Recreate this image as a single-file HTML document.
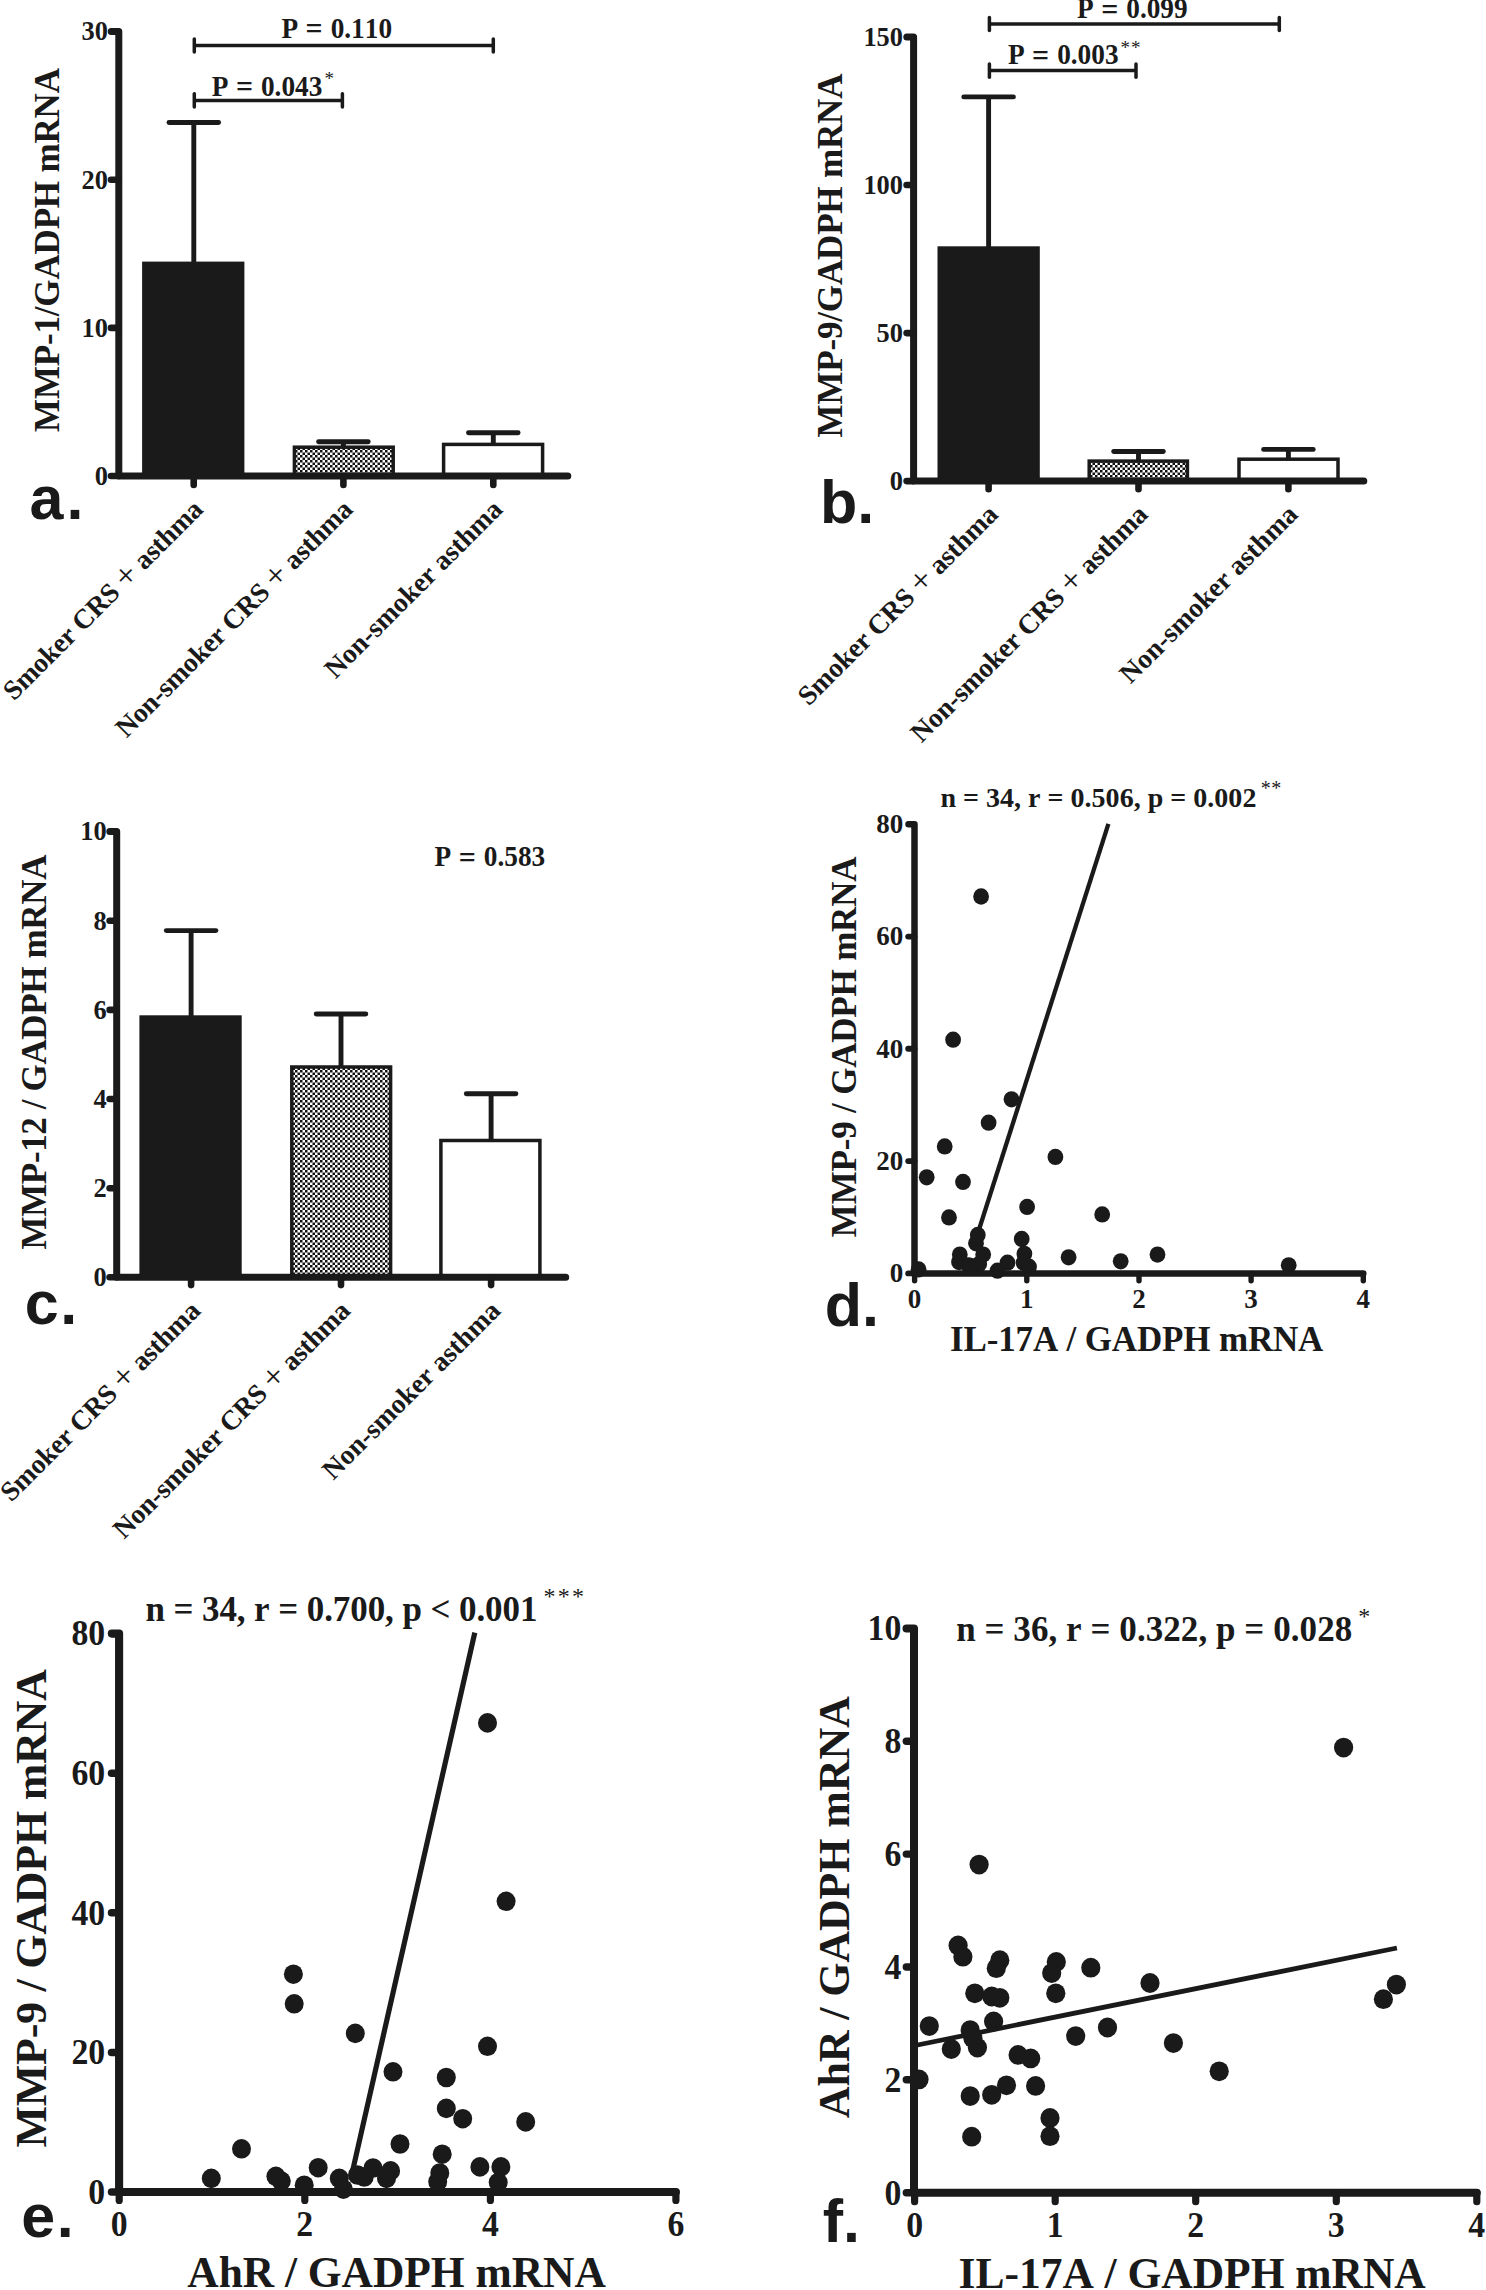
<!DOCTYPE html>
<html lang="en"><head><meta charset="utf-8"><title>Figure</title>
<style>html,body{margin:0;padding:0;background:#fff}svg{display:block}text{fill:#1a1a1a;font-kerning:none}</style></head><body>
<svg width="1486" height="2290" viewBox="0 0 1486 2290">
<defs><pattern id="chk" width="5" height="5" patternUnits="userSpaceOnUse"><rect width="5" height="5" fill="#fff"/><rect width="2.5" height="2.5" fill="#111"/><rect x="2.5" y="2.5" width="2.5" height="2.5" fill="#111"/></pattern></defs>
<rect width="1486" height="2290" fill="#fff"/>
<rect x="142.1" y="261.6" width="102.3" height="214.4" fill="#1a1a1a"/>
<rect x="294.4" y="447.2" width="98.8" height="28.8" fill="url(#chk)" stroke="#1a1a1a" stroke-width="3.5"/>
<rect x="443.6" y="444.4" width="99.0" height="31.6" fill="#fff" stroke="#1a1a1a" stroke-width="3.5"/>
<line x1="193.8" y1="122.5" x2="193.8" y2="262.0" stroke="#1a1a1a" stroke-width="4.9" stroke-linecap="butt"/>
<line x1="169.0" y1="122.5" x2="218.6" y2="122.5" stroke="#1a1a1a" stroke-width="4.9" stroke-linecap="round"/>
<line x1="343.4" y1="441.8" x2="343.4" y2="446.0" stroke="#1a1a1a" stroke-width="4.9" stroke-linecap="butt"/>
<line x1="318.6" y1="441.8" x2="368.2" y2="441.8" stroke="#1a1a1a" stroke-width="4.9" stroke-linecap="round"/>
<line x1="493.3" y1="432.8" x2="493.3" y2="444.0" stroke="#1a1a1a" stroke-width="4.9" stroke-linecap="butt"/>
<line x1="468.5" y1="432.8" x2="518.1" y2="432.8" stroke="#1a1a1a" stroke-width="4.9" stroke-linecap="round"/>
<path d="M111.2,31.6 L118.8,31.6 L118.8,476.0 L567.8,476.0" fill="none" stroke="#1a1a1a" stroke-width="7" stroke-linecap="round" stroke-linejoin="round"/>
<text transform="translate(107.9 40.4) scale(1 1.07)" font-size="26.4" font-weight="bold" font-family="'Liberation Serif','Times New Roman',serif" text-anchor="end" >30</text>
<line x1="111.0" y1="179.7" x2="118.8" y2="179.7" stroke="#1a1a1a" stroke-width="6.6" stroke-linecap="round"/>
<text transform="translate(107.9 188.5) scale(1 1.07)" font-size="26.4" font-weight="bold" font-family="'Liberation Serif','Times New Roman',serif" text-anchor="end" >20</text>
<line x1="111.0" y1="327.9" x2="118.8" y2="327.9" stroke="#1a1a1a" stroke-width="6.6" stroke-linecap="round"/>
<text transform="translate(107.9 336.7) scale(1 1.07)" font-size="26.4" font-weight="bold" font-family="'Liberation Serif','Times New Roman',serif" text-anchor="end" >10</text>
<line x1="111.0" y1="476.0" x2="118.8" y2="476.0" stroke="#1a1a1a" stroke-width="6.6" stroke-linecap="round"/>
<text transform="translate(107.9 484.8) scale(1 1.07)" font-size="26.4" font-weight="bold" font-family="'Liberation Serif','Times New Roman',serif" text-anchor="end" >0</text>
<line x1="193.7" y1="476.3" x2="193.7" y2="484.9" stroke="#1a1a1a" stroke-width="6.6" stroke-linecap="round"/>
<line x1="343.4" y1="476.3" x2="343.4" y2="484.9" stroke="#1a1a1a" stroke-width="6.6" stroke-linecap="round"/>
<line x1="493.3" y1="476.3" x2="493.3" y2="484.9" stroke="#1a1a1a" stroke-width="6.6" stroke-linecap="round"/>
<text transform="translate(204.5 511.0) rotate(-45)" font-size="27.6" font-weight="bold" font-family="'Liberation Serif','Times New Roman',serif" text-anchor="end" textLength="269.5" lengthAdjust="spacing" >Smoker CRS <tspan font-weight="normal" font-size="35" dy="1.5">+</tspan><tspan dy="-1.5"> asthma</tspan></text>
<text transform="translate(354.2 511.0) rotate(-45)" font-size="27.6" font-weight="bold" font-family="'Liberation Serif','Times New Roman',serif" text-anchor="end" textLength="322.0" lengthAdjust="spacing" >Non-smoker CRS <tspan font-weight="normal" font-size="35" dy="1.5">+</tspan><tspan dy="-1.5"> asthma</tspan></text>
<text transform="translate(504.1 511.0) rotate(-45)" font-size="27.6" font-weight="bold" font-family="'Liberation Serif','Times New Roman',serif" text-anchor="end" textLength="238.5" lengthAdjust="spacing" >Non-smoker asthma</text>
<text transform="translate(59.2 250.0) rotate(-90)" font-size="35" font-weight="bold" font-family="'Liberation Serif','Times New Roman',serif" text-anchor="middle" textLength="364.0" lengthAdjust="spacing" >MMP-1/GADPH mRNA</text>
<text transform="translate(29.4 519.0)" font-size="61" font-weight="bold" font-family="'Liberation Sans',Arial,sans-serif" text-anchor="start" letter-spacing="3.2">a.</text>
<line x1="194.3" y1="45.5" x2="493.3" y2="45.5" stroke="#1a1a1a" stroke-width="3.5" stroke-linecap="butt"/>
<line x1="194.3" y1="38.9" x2="194.3" y2="52.1" stroke="#1a1a1a" stroke-width="3.5" stroke-linecap="round"/>
<line x1="493.3" y1="38.9" x2="493.3" y2="52.1" stroke="#1a1a1a" stroke-width="3.5" stroke-linecap="round"/>
<line x1="194.3" y1="100.4" x2="342.4" y2="100.4" stroke="#1a1a1a" stroke-width="3.5" stroke-linecap="butt"/>
<line x1="194.3" y1="93.8" x2="194.3" y2="107.1" stroke="#1a1a1a" stroke-width="3.5" stroke-linecap="round"/>
<line x1="342.4" y1="93.8" x2="342.4" y2="107.1" stroke="#1a1a1a" stroke-width="3.5" stroke-linecap="round"/>
<text transform="translate(281.8 37.7) scale(1 1.057)" font-size="27.3" font-weight="bold" font-family="'Liberation Serif','Times New Roman',serif"><tspan x="-0.4">P</tspan> <tspan x="23.8" dy="1.5" font-size="30">=</tspan> <tspan x="48.85" dy="-1.5">0.110</tspan></text>
<text transform="translate(212.1 95.6) scale(1 1.057)" font-size="27.3" font-weight="bold" font-family="'Liberation Serif','Times New Roman',serif"><tspan x="-0.4">P</tspan> <tspan x="23.8" dy="1.5" font-size="30">=</tspan> <tspan x="48.85" dy="-1.5">0.043</tspan></text>
<text transform="translate(324.5 85.0)" font-size="19" font-weight="normal" font-family="'Liberation Serif','Times New Roman',serif" text-anchor="start" >*</text>
<rect x="937.5" y="246.3" width="102.3" height="234.8" fill="#1a1a1a"/>
<rect x="1089.2" y="461.1" width="98.2" height="20.0" fill="url(#chk)" stroke="#1a1a1a" stroke-width="3.5"/>
<rect x="1239.0" y="459.2" width="99.0" height="21.9" fill="#fff" stroke="#1a1a1a" stroke-width="3.5"/>
<line x1="988.6" y1="96.9" x2="988.6" y2="247.0" stroke="#1a1a1a" stroke-width="4.9" stroke-linecap="butt"/>
<line x1="963.8" y1="96.9" x2="1013.4" y2="96.9" stroke="#1a1a1a" stroke-width="4.9" stroke-linecap="round"/>
<line x1="1138.5" y1="451.5" x2="1138.5" y2="460.0" stroke="#1a1a1a" stroke-width="4.9" stroke-linecap="butt"/>
<line x1="1113.7" y1="451.5" x2="1163.3" y2="451.5" stroke="#1a1a1a" stroke-width="4.9" stroke-linecap="round"/>
<line x1="1288.4" y1="449.4" x2="1288.4" y2="459.0" stroke="#1a1a1a" stroke-width="4.9" stroke-linecap="butt"/>
<line x1="1263.6" y1="449.4" x2="1313.2" y2="449.4" stroke="#1a1a1a" stroke-width="4.9" stroke-linecap="round"/>
<path d="M906.8,37.0 L913.6,37.0 L913.6,481.1 L1363.8,481.1" fill="none" stroke="#1a1a1a" stroke-width="7" stroke-linecap="round" stroke-linejoin="round"/>
<text transform="translate(903.0 45.8) scale(1 1.07)" font-size="26.4" font-weight="bold" font-family="'Liberation Serif','Times New Roman',serif" text-anchor="end" >150</text>
<line x1="906.6" y1="185.0" x2="913.6" y2="185.0" stroke="#1a1a1a" stroke-width="6.6" stroke-linecap="round"/>
<text transform="translate(903.0 193.8) scale(1 1.07)" font-size="26.4" font-weight="bold" font-family="'Liberation Serif','Times New Roman',serif" text-anchor="end" >100</text>
<line x1="906.6" y1="333.1" x2="913.6" y2="333.1" stroke="#1a1a1a" stroke-width="6.6" stroke-linecap="round"/>
<text transform="translate(903.0 341.9) scale(1 1.07)" font-size="26.4" font-weight="bold" font-family="'Liberation Serif','Times New Roman',serif" text-anchor="end" >50</text>
<line x1="906.6" y1="481.1" x2="913.6" y2="481.1" stroke="#1a1a1a" stroke-width="6.6" stroke-linecap="round"/>
<text transform="translate(903.0 489.9) scale(1 1.07)" font-size="26.4" font-weight="bold" font-family="'Liberation Serif','Times New Roman',serif" text-anchor="end" >0</text>
<line x1="988.6" y1="481.4" x2="988.6" y2="489.3" stroke="#1a1a1a" stroke-width="6.6" stroke-linecap="round"/>
<line x1="1138.5" y1="481.4" x2="1138.5" y2="489.3" stroke="#1a1a1a" stroke-width="6.6" stroke-linecap="round"/>
<line x1="1288.4" y1="481.4" x2="1288.4" y2="489.3" stroke="#1a1a1a" stroke-width="6.6" stroke-linecap="round"/>
<text transform="translate(999.4 516.1) rotate(-45)" font-size="27.6" font-weight="bold" font-family="'Liberation Serif','Times New Roman',serif" text-anchor="end" textLength="269.5" lengthAdjust="spacing" >Smoker CRS <tspan font-weight="normal" font-size="35" dy="1.5">+</tspan><tspan dy="-1.5"> asthma</tspan></text>
<text transform="translate(1149.3 516.1) rotate(-45)" font-size="27.6" font-weight="bold" font-family="'Liberation Serif','Times New Roman',serif" text-anchor="end" textLength="322.0" lengthAdjust="spacing" >Non-smoker CRS <tspan font-weight="normal" font-size="35" dy="1.5">+</tspan><tspan dy="-1.5"> asthma</tspan></text>
<text transform="translate(1299.2 516.1) rotate(-45)" font-size="27.6" font-weight="bold" font-family="'Liberation Serif','Times New Roman',serif" text-anchor="end" textLength="238.5" lengthAdjust="spacing" >Non-smoker asthma</text>
<text transform="translate(842.4 255.5) rotate(-90)" font-size="35" font-weight="bold" font-family="'Liberation Serif','Times New Roman',serif" text-anchor="middle" textLength="364.0" lengthAdjust="spacing" >MMP-9/GADPH mRNA</text>
<text transform="translate(820.0 522.5)" font-size="61" font-weight="bold" font-family="'Liberation Sans',Arial,sans-serif" text-anchor="start" letter-spacing="0">b.</text>
<line x1="989.4" y1="24.0" x2="1279.3" y2="24.0" stroke="#1a1a1a" stroke-width="3.5" stroke-linecap="butt"/>
<line x1="989.4" y1="17.4" x2="989.4" y2="30.6" stroke="#1a1a1a" stroke-width="3.5" stroke-linecap="round"/>
<line x1="1279.3" y1="17.4" x2="1279.3" y2="30.6" stroke="#1a1a1a" stroke-width="3.5" stroke-linecap="round"/>
<line x1="989.4" y1="70.5" x2="1136.0" y2="70.5" stroke="#1a1a1a" stroke-width="3.5" stroke-linecap="butt"/>
<line x1="989.4" y1="63.9" x2="989.4" y2="77.2" stroke="#1a1a1a" stroke-width="3.5" stroke-linecap="round"/>
<line x1="1136.0" y1="63.9" x2="1136.0" y2="77.2" stroke="#1a1a1a" stroke-width="3.5" stroke-linecap="round"/>
<text transform="translate(1077.4 18.3) scale(1 1.057)" font-size="27.3" font-weight="bold" font-family="'Liberation Serif','Times New Roman',serif"><tspan x="-0.4">P</tspan> <tspan x="23.8" dy="1.5" font-size="30">=</tspan> <tspan x="48.85" dy="-1.5">0.099</tspan></text>
<text transform="translate(1008.3 64.0) scale(1 1.057)" font-size="27.3" font-weight="bold" font-family="'Liberation Serif','Times New Roman',serif"><tspan x="-0.4">P</tspan> <tspan x="23.8" dy="1.5" font-size="30">=</tspan> <tspan x="48.85" dy="-1.5">0.003</tspan></text>
<text transform="translate(1120.5 54.0)" font-size="19" font-weight="normal" font-family="'Liberation Serif','Times New Roman',serif" text-anchor="start" textLength="20.0" lengthAdjust="spacing" >**</text>
<rect x="139.4" y="1015.3" width="102.3" height="262.0" fill="#1a1a1a"/>
<rect x="291.8" y="1067.0" width="98.8" height="210.2" fill="url(#chk)" stroke="#1a1a1a" stroke-width="3.5"/>
<rect x="440.9" y="1140.5" width="99.0" height="136.8" fill="#fff" stroke="#1a1a1a" stroke-width="3.5"/>
<line x1="191.1" y1="930.6" x2="191.1" y2="1016.0" stroke="#1a1a1a" stroke-width="4.9" stroke-linecap="butt"/>
<line x1="166.3" y1="930.6" x2="215.9" y2="930.6" stroke="#1a1a1a" stroke-width="4.9" stroke-linecap="round"/>
<line x1="341.0" y1="1014.0" x2="341.0" y2="1066.0" stroke="#1a1a1a" stroke-width="4.9" stroke-linecap="butt"/>
<line x1="316.2" y1="1014.0" x2="365.8" y2="1014.0" stroke="#1a1a1a" stroke-width="4.9" stroke-linecap="round"/>
<line x1="491.1" y1="1093.7" x2="491.1" y2="1140.0" stroke="#1a1a1a" stroke-width="4.9" stroke-linecap="butt"/>
<line x1="466.3" y1="1093.7" x2="515.9" y2="1093.7" stroke="#1a1a1a" stroke-width="4.9" stroke-linecap="round"/>
<path d="M109.8,831.6 L116.7,831.6 L116.7,1277.3 L565.7,1277.3" fill="none" stroke="#1a1a1a" stroke-width="7" stroke-linecap="round" stroke-linejoin="round"/>
<text transform="translate(106.6 840.4) scale(1 1.07)" font-size="26.4" font-weight="bold" font-family="'Liberation Serif','Times New Roman',serif" text-anchor="end" >10</text>
<line x1="109.6" y1="920.7" x2="116.7" y2="920.7" stroke="#1a1a1a" stroke-width="6.6" stroke-linecap="round"/>
<text transform="translate(106.6 929.5) scale(1 1.07)" font-size="26.4" font-weight="bold" font-family="'Liberation Serif','Times New Roman',serif" text-anchor="end" >8</text>
<line x1="109.6" y1="1009.9" x2="116.7" y2="1009.9" stroke="#1a1a1a" stroke-width="6.6" stroke-linecap="round"/>
<text transform="translate(106.6 1018.7) scale(1 1.07)" font-size="26.4" font-weight="bold" font-family="'Liberation Serif','Times New Roman',serif" text-anchor="end" >6</text>
<line x1="109.6" y1="1099.0" x2="116.7" y2="1099.0" stroke="#1a1a1a" stroke-width="6.6" stroke-linecap="round"/>
<text transform="translate(106.6 1107.8) scale(1 1.07)" font-size="26.4" font-weight="bold" font-family="'Liberation Serif','Times New Roman',serif" text-anchor="end" >4</text>
<line x1="109.6" y1="1188.2" x2="116.7" y2="1188.2" stroke="#1a1a1a" stroke-width="6.6" stroke-linecap="round"/>
<text transform="translate(106.6 1197.0) scale(1 1.07)" font-size="26.4" font-weight="bold" font-family="'Liberation Serif','Times New Roman',serif" text-anchor="end" >2</text>
<line x1="109.6" y1="1277.3" x2="116.7" y2="1277.3" stroke="#1a1a1a" stroke-width="6.6" stroke-linecap="round"/>
<text transform="translate(106.6 1286.1) scale(1 1.07)" font-size="26.4" font-weight="bold" font-family="'Liberation Serif','Times New Roman',serif" text-anchor="end" >0</text>
<line x1="191.1" y1="1277.6" x2="191.1" y2="1285.1" stroke="#1a1a1a" stroke-width="6.6" stroke-linecap="round"/>
<line x1="341.0" y1="1277.6" x2="341.0" y2="1285.1" stroke="#1a1a1a" stroke-width="6.6" stroke-linecap="round"/>
<line x1="491.1" y1="1277.6" x2="491.1" y2="1285.1" stroke="#1a1a1a" stroke-width="6.6" stroke-linecap="round"/>
<text transform="translate(201.9 1312.3) rotate(-45)" font-size="27.6" font-weight="bold" font-family="'Liberation Serif','Times New Roman',serif" text-anchor="end" textLength="269.5" lengthAdjust="spacing" >Smoker CRS <tspan font-weight="normal" font-size="35" dy="1.5">+</tspan><tspan dy="-1.5"> asthma</tspan></text>
<text transform="translate(351.8 1312.3) rotate(-45)" font-size="27.6" font-weight="bold" font-family="'Liberation Serif','Times New Roman',serif" text-anchor="end" textLength="322.0" lengthAdjust="spacing" >Non-smoker CRS <tspan font-weight="normal" font-size="35" dy="1.5">+</tspan><tspan dy="-1.5"> asthma</tspan></text>
<text transform="translate(501.9 1312.3) rotate(-45)" font-size="27.6" font-weight="bold" font-family="'Liberation Serif','Times New Roman',serif" text-anchor="end" textLength="238.5" lengthAdjust="spacing" >Non-smoker asthma</text>
<text transform="translate(46.1 1052.0) rotate(-90)" font-size="35" font-weight="bold" font-family="'Liberation Serif','Times New Roman',serif" text-anchor="middle" textLength="395.0" lengthAdjust="spacing" >MMP-12 / GADPH mRNA</text>
<text transform="translate(24.8 1324.0)" font-size="61" font-weight="bold" font-family="'Liberation Sans',Arial,sans-serif" text-anchor="start" letter-spacing="1.5">c.</text>
<text transform="translate(435.0 866.0) scale(1 1.057)" font-size="27.3" font-weight="bold" font-family="'Liberation Serif','Times New Roman',serif"><tspan x="-0.4">P</tspan> <tspan x="23.8" dy="1.5" font-size="30">=</tspan> <tspan x="48.85" dy="-1.5">0.583</tspan></text>
<ellipse cx="918.6" cy="1269.4" rx="7.9" ry="8.14" fill="#1a1a1a"/>
<ellipse cx="926.7" cy="1177.3" rx="7.9" ry="8.14" fill="#1a1a1a"/>
<ellipse cx="944.7" cy="1146.4" rx="7.9" ry="8.14" fill="#1a1a1a"/>
<ellipse cx="949.0" cy="1217.4" rx="7.9" ry="8.14" fill="#1a1a1a"/>
<ellipse cx="963.0" cy="1181.9" rx="7.9" ry="8.14" fill="#1a1a1a"/>
<ellipse cx="988.6" cy="1122.7" rx="7.9" ry="8.14" fill="#1a1a1a"/>
<ellipse cx="1011.5" cy="1099.3" rx="7.9" ry="8.14" fill="#1a1a1a"/>
<ellipse cx="1055.4" cy="1156.9" rx="7.9" ry="8.14" fill="#1a1a1a"/>
<ellipse cx="1027.1" cy="1206.9" rx="7.9" ry="8.14" fill="#1a1a1a"/>
<ellipse cx="1102.2" cy="1214.4" rx="7.9" ry="8.14" fill="#1a1a1a"/>
<ellipse cx="977.8" cy="1234.9" rx="7.9" ry="8.14" fill="#1a1a1a"/>
<ellipse cx="976.0" cy="1243.3" rx="7.9" ry="8.14" fill="#1a1a1a"/>
<ellipse cx="983.2" cy="1254.6" rx="7.9" ry="8.14" fill="#1a1a1a"/>
<ellipse cx="959.8" cy="1254.6" rx="7.9" ry="8.14" fill="#1a1a1a"/>
<ellipse cx="959.0" cy="1262.1" rx="7.9" ry="8.14" fill="#1a1a1a"/>
<ellipse cx="968.4" cy="1265.3" rx="7.9" ry="8.14" fill="#1a1a1a"/>
<ellipse cx="979.2" cy="1264.0" rx="7.9" ry="8.14" fill="#1a1a1a"/>
<ellipse cx="997.5" cy="1270.7" rx="7.9" ry="8.14" fill="#1a1a1a"/>
<ellipse cx="1007.5" cy="1262.7" rx="7.9" ry="8.14" fill="#1a1a1a"/>
<ellipse cx="1021.7" cy="1239.0" rx="7.9" ry="8.14" fill="#1a1a1a"/>
<ellipse cx="1024.4" cy="1253.8" rx="7.9" ry="8.14" fill="#1a1a1a"/>
<ellipse cx="1023.6" cy="1262.7" rx="7.9" ry="8.14" fill="#1a1a1a"/>
<ellipse cx="1029.0" cy="1266.7" rx="7.9" ry="8.14" fill="#1a1a1a"/>
<ellipse cx="1068.6" cy="1257.3" rx="7.9" ry="8.14" fill="#1a1a1a"/>
<ellipse cx="1120.7" cy="1261.3" rx="7.9" ry="8.14" fill="#1a1a1a"/>
<ellipse cx="1157.5" cy="1254.6" rx="7.9" ry="8.14" fill="#1a1a1a"/>
<ellipse cx="1288.7" cy="1265.3" rx="7.9" ry="8.14" fill="#1a1a1a"/>
<ellipse cx="981.1" cy="896.5" rx="7.9" ry="8.14" fill="#1a1a1a"/>
<ellipse cx="953.1" cy="1039.7" rx="7.9" ry="8.14" fill="#1a1a1a"/>
<ellipse cx="970.0" cy="1266.0" rx="7.9" ry="8.14" fill="#1a1a1a"/>
<line x1="979.2" y1="1229.0" x2="1108.4" y2="823.8" stroke="#1a1a1a" stroke-width="4.3" stroke-linecap="butt"/>
<path d="M908.5,824.3 L914.5,824.3 L914.5,1273.4 L1363.3,1273.4" fill="none" stroke="#1a1a1a" stroke-width="6.5" stroke-linecap="round" stroke-linejoin="round"/>
<text transform="translate(903.2 833.1) scale(1 1.045)" font-size="27" font-weight="bold" font-family="'Liberation Serif','Times New Roman',serif" text-anchor="end" >80</text>
<line x1="908.2" y1="936.6" x2="914.5" y2="936.6" stroke="#1a1a1a" stroke-width="5.9" stroke-linecap="round"/>
<text transform="translate(903.2 945.4) scale(1 1.045)" font-size="27" font-weight="bold" font-family="'Liberation Serif','Times New Roman',serif" text-anchor="end" >60</text>
<line x1="908.2" y1="1048.8" x2="914.5" y2="1048.8" stroke="#1a1a1a" stroke-width="5.9" stroke-linecap="round"/>
<text transform="translate(903.2 1057.6) scale(1 1.045)" font-size="27" font-weight="bold" font-family="'Liberation Serif','Times New Roman',serif" text-anchor="end" >40</text>
<line x1="908.2" y1="1161.1" x2="914.5" y2="1161.1" stroke="#1a1a1a" stroke-width="5.9" stroke-linecap="round"/>
<text transform="translate(903.2 1169.9) scale(1 1.045)" font-size="27" font-weight="bold" font-family="'Liberation Serif','Times New Roman',serif" text-anchor="end" >20</text>
<line x1="908.2" y1="1273.4" x2="914.5" y2="1273.4" stroke="#1a1a1a" stroke-width="5.9" stroke-linecap="round"/>
<text transform="translate(903.2 1282.2) scale(1 1.045)" font-size="27" font-weight="bold" font-family="'Liberation Serif','Times New Roman',serif" text-anchor="end" >0</text>
<line x1="914.6" y1="1273.4" x2="914.6" y2="1280.7" stroke="#1a1a1a" stroke-width="5.4" stroke-linecap="round"/>
<text transform="translate(914.6 1308.0) scale(1 1.045)" font-size="27" font-weight="bold" font-family="'Liberation Serif','Times New Roman',serif" text-anchor="middle" >0</text>
<line x1="1026.8" y1="1273.4" x2="1026.8" y2="1280.7" stroke="#1a1a1a" stroke-width="5.4" stroke-linecap="round"/>
<text transform="translate(1026.8 1308.0) scale(1 1.045)" font-size="27" font-weight="bold" font-family="'Liberation Serif','Times New Roman',serif" text-anchor="middle" >1</text>
<line x1="1139.0" y1="1273.4" x2="1139.0" y2="1280.7" stroke="#1a1a1a" stroke-width="5.4" stroke-linecap="round"/>
<text transform="translate(1139.0 1308.0) scale(1 1.045)" font-size="27" font-weight="bold" font-family="'Liberation Serif','Times New Roman',serif" text-anchor="middle" >2</text>
<line x1="1251.1" y1="1273.4" x2="1251.1" y2="1280.7" stroke="#1a1a1a" stroke-width="5.4" stroke-linecap="round"/>
<text transform="translate(1251.1 1308.0) scale(1 1.045)" font-size="27" font-weight="bold" font-family="'Liberation Serif','Times New Roman',serif" text-anchor="middle" >3</text>
<line x1="1363.3" y1="1273.4" x2="1363.3" y2="1280.7" stroke="#1a1a1a" stroke-width="5.4" stroke-linecap="round"/>
<text transform="translate(1363.3 1308.0) scale(1 1.045)" font-size="27" font-weight="bold" font-family="'Liberation Serif','Times New Roman',serif" text-anchor="middle" >4</text>
<text transform="translate(940.4 807.3)" font-size="28" font-weight="bold" font-family="'Liberation Serif','Times New Roman',serif" text-anchor="start" textLength="316.0" lengthAdjust="spacing" >n = 34, r = 0.506, p = 0.002</text>
<text transform="translate(1260.8 795.3)" font-size="20" font-weight="normal" font-family="'Liberation Serif','Times New Roman',serif" text-anchor="start" textLength="20.5" lengthAdjust="spacing" >**</text>
<text transform="translate(856.4 1046.8) rotate(-90)" font-size="35" font-weight="bold" font-family="'Liberation Serif','Times New Roman',serif" text-anchor="middle" textLength="380.7" lengthAdjust="spacing" >MMP-9 / GADPH mRNA</text>
<text transform="translate(950.1 1350.5)" font-size="35" font-weight="bold" font-family="'Liberation Serif','Times New Roman',serif" text-anchor="start" textLength="373.3" lengthAdjust="spacing" >IL-17A / GADPH mRNA</text>
<text transform="translate(824.8 1325.5)" font-size="61" font-weight="bold" font-family="'Liberation Sans',Arial,sans-serif" text-anchor="start" letter-spacing="0">d.</text>
<ellipse cx="487.5" cy="1722.9" rx="9.5" ry="9.79" fill="#1a1a1a"/>
<ellipse cx="506.1" cy="1901.3" rx="9.5" ry="9.79" fill="#1a1a1a"/>
<ellipse cx="293.4" cy="1974.2" rx="9.5" ry="9.79" fill="#1a1a1a"/>
<ellipse cx="294.2" cy="2003.8" rx="9.5" ry="9.79" fill="#1a1a1a"/>
<ellipse cx="355.3" cy="2033.4" rx="9.5" ry="9.79" fill="#1a1a1a"/>
<ellipse cx="487.5" cy="2046.3" rx="9.5" ry="9.79" fill="#1a1a1a"/>
<ellipse cx="393.0" cy="2071.8" rx="9.5" ry="9.79" fill="#1a1a1a"/>
<ellipse cx="446.3" cy="2077.5" rx="9.5" ry="9.79" fill="#1a1a1a"/>
<ellipse cx="446.3" cy="2108.4" rx="9.5" ry="9.79" fill="#1a1a1a"/>
<ellipse cx="462.7" cy="2118.7" rx="9.5" ry="9.79" fill="#1a1a1a"/>
<ellipse cx="525.7" cy="2121.9" rx="9.5" ry="9.79" fill="#1a1a1a"/>
<ellipse cx="400.0" cy="2144.0" rx="9.5" ry="9.79" fill="#1a1a1a"/>
<ellipse cx="241.5" cy="2148.8" rx="9.5" ry="9.79" fill="#1a1a1a"/>
<ellipse cx="442.2" cy="2154.2" rx="9.5" ry="9.79" fill="#1a1a1a"/>
<ellipse cx="439.8" cy="2173.0" rx="9.5" ry="9.79" fill="#1a1a1a"/>
<ellipse cx="437.7" cy="2181.7" rx="9.5" ry="9.79" fill="#1a1a1a"/>
<ellipse cx="479.9" cy="2166.9" rx="9.5" ry="9.79" fill="#1a1a1a"/>
<ellipse cx="500.9" cy="2166.9" rx="9.5" ry="9.79" fill="#1a1a1a"/>
<ellipse cx="498.2" cy="2182.5" rx="9.5" ry="9.79" fill="#1a1a1a"/>
<ellipse cx="211.3" cy="2178.4" rx="9.5" ry="9.79" fill="#1a1a1a"/>
<ellipse cx="275.9" cy="2176.3" rx="9.5" ry="9.79" fill="#1a1a1a"/>
<ellipse cx="281.3" cy="2181.1" rx="9.5" ry="9.79" fill="#1a1a1a"/>
<ellipse cx="304.2" cy="2185.2" rx="9.5" ry="9.79" fill="#1a1a1a"/>
<ellipse cx="318.2" cy="2167.7" rx="9.5" ry="9.79" fill="#1a1a1a"/>
<ellipse cx="339.3" cy="2178.4" rx="9.5" ry="9.79" fill="#1a1a1a"/>
<ellipse cx="343.4" cy="2189.2" rx="9.5" ry="9.79" fill="#1a1a1a"/>
<ellipse cx="357.5" cy="2175.0" rx="9.5" ry="9.79" fill="#1a1a1a"/>
<ellipse cx="364.2" cy="2177.0" rx="9.5" ry="9.79" fill="#1a1a1a"/>
<ellipse cx="373.0" cy="2168.0" rx="9.5" ry="9.79" fill="#1a1a1a"/>
<ellipse cx="390.6" cy="2170.9" rx="9.5" ry="9.79" fill="#1a1a1a"/>
<ellipse cx="386.5" cy="2178.4" rx="9.5" ry="9.79" fill="#1a1a1a"/>
<line x1="352.8" y1="2170.0" x2="474.8" y2="1632.7" stroke="#1a1a1a" stroke-width="5.2" stroke-linecap="butt"/>
<path d="M111.8,1633.6 L119.1,1633.6 L119.1,2192.0 L675.9,2192.0" fill="none" stroke="#1a1a1a" stroke-width="8.1" stroke-linecap="round" stroke-linejoin="round"/>
<text transform="translate(105.2 1645.3) scale(1 1.045)" font-size="33.8" font-weight="bold" font-family="'Liberation Serif','Times New Roman',serif" text-anchor="end" >80</text>
<line x1="111.5" y1="1773.2" x2="119.1" y2="1773.2" stroke="#1a1a1a" stroke-width="7.5" stroke-linecap="round"/>
<text transform="translate(105.2 1784.9) scale(1 1.045)" font-size="33.8" font-weight="bold" font-family="'Liberation Serif','Times New Roman',serif" text-anchor="end" >60</text>
<line x1="111.5" y1="1912.8" x2="119.1" y2="1912.8" stroke="#1a1a1a" stroke-width="7.5" stroke-linecap="round"/>
<text transform="translate(105.2 1924.5) scale(1 1.045)" font-size="33.8" font-weight="bold" font-family="'Liberation Serif','Times New Roman',serif" text-anchor="end" >40</text>
<line x1="111.5" y1="2052.4" x2="119.1" y2="2052.4" stroke="#1a1a1a" stroke-width="7.5" stroke-linecap="round"/>
<text transform="translate(105.2 2064.1) scale(1 1.045)" font-size="33.8" font-weight="bold" font-family="'Liberation Serif','Times New Roman',serif" text-anchor="end" >20</text>
<line x1="111.5" y1="2192.0" x2="119.1" y2="2192.0" stroke="#1a1a1a" stroke-width="7.5" stroke-linecap="round"/>
<text transform="translate(105.2 2203.7) scale(1 1.045)" font-size="33.8" font-weight="bold" font-family="'Liberation Serif','Times New Roman',serif" text-anchor="end" >0</text>
<line x1="119.2" y1="2192.0" x2="119.2" y2="2200.4" stroke="#1a1a1a" stroke-width="7.2" stroke-linecap="round"/>
<text transform="translate(119.2 2236.3) scale(1 1.045)" font-size="33.8" font-weight="bold" font-family="'Liberation Serif','Times New Roman',serif" text-anchor="middle" >0</text>
<line x1="304.8" y1="2192.0" x2="304.8" y2="2200.4" stroke="#1a1a1a" stroke-width="7.2" stroke-linecap="round"/>
<text transform="translate(304.8 2236.3) scale(1 1.045)" font-size="33.8" font-weight="bold" font-family="'Liberation Serif','Times New Roman',serif" text-anchor="middle" >2</text>
<line x1="490.4" y1="2192.0" x2="490.4" y2="2200.4" stroke="#1a1a1a" stroke-width="7.2" stroke-linecap="round"/>
<text transform="translate(490.4 2236.3) scale(1 1.045)" font-size="33.8" font-weight="bold" font-family="'Liberation Serif','Times New Roman',serif" text-anchor="middle" >4</text>
<line x1="675.9" y1="2192.0" x2="675.9" y2="2200.4" stroke="#1a1a1a" stroke-width="7.2" stroke-linecap="round"/>
<text transform="translate(675.9 2236.3) scale(1 1.045)" font-size="33.8" font-weight="bold" font-family="'Liberation Serif','Times New Roman',serif" text-anchor="middle" >6</text>
<text transform="translate(145.4 1620.6)" font-size="35" font-weight="bold" font-family="'Liberation Serif','Times New Roman',serif" text-anchor="start" textLength="392.0" lengthAdjust="spacing" >n = 34, r = 0.700, p &lt; 0.001</text>
<text transform="translate(543.5 1604.2)" font-size="24" font-weight="normal" font-family="'Liberation Serif','Times New Roman',serif" text-anchor="start" textLength="40.5" lengthAdjust="spacing" >***</text>
<text transform="translate(45.9 1908.3) rotate(-90)" font-size="44" font-weight="bold" font-family="'Liberation Serif','Times New Roman',serif" text-anchor="middle" textLength="478.3" lengthAdjust="spacing" >MMP-9 / GADPH mRNA</text>
<text transform="translate(187.3 2287.0)" font-size="43.5" font-weight="bold" font-family="'Liberation Serif','Times New Roman',serif" text-anchor="start" textLength="418.5" lengthAdjust="spacing" >AhR / GADPH mRNA</text>
<text transform="translate(21.3 2237.0)" font-size="61" font-weight="bold" font-family="'Liberation Sans',Arial,sans-serif" text-anchor="start" letter-spacing="1.5">e.</text>
<ellipse cx="979.1" cy="1864.6" rx="9.6" ry="9.89" fill="#1a1a1a"/>
<ellipse cx="958.1" cy="1945.4" rx="9.6" ry="9.89" fill="#1a1a1a"/>
<ellipse cx="962.9" cy="1956.7" rx="9.6" ry="9.89" fill="#1a1a1a"/>
<ellipse cx="999.8" cy="1960.2" rx="9.6" ry="9.89" fill="#1a1a1a"/>
<ellipse cx="996.3" cy="1968.2" rx="9.6" ry="9.89" fill="#1a1a1a"/>
<ellipse cx="1056.3" cy="1962.0" rx="9.6" ry="9.89" fill="#1a1a1a"/>
<ellipse cx="1051.7" cy="1973.1" rx="9.6" ry="9.89" fill="#1a1a1a"/>
<ellipse cx="1090.8" cy="1967.7" rx="9.6" ry="9.89" fill="#1a1a1a"/>
<ellipse cx="974.8" cy="1993.3" rx="9.6" ry="9.89" fill="#1a1a1a"/>
<ellipse cx="991.7" cy="1996.5" rx="9.6" ry="9.89" fill="#1a1a1a"/>
<ellipse cx="999.8" cy="1997.8" rx="9.6" ry="9.89" fill="#1a1a1a"/>
<ellipse cx="1055.8" cy="1993.3" rx="9.6" ry="9.89" fill="#1a1a1a"/>
<ellipse cx="1150.0" cy="1983.0" rx="9.6" ry="9.89" fill="#1a1a1a"/>
<ellipse cx="929.3" cy="2026.1" rx="9.6" ry="9.89" fill="#1a1a1a"/>
<ellipse cx="993.6" cy="2021.5" rx="9.6" ry="9.89" fill="#1a1a1a"/>
<ellipse cx="970.2" cy="2030.1" rx="9.6" ry="9.89" fill="#1a1a1a"/>
<ellipse cx="972.9" cy="2038.2" rx="9.6" ry="9.89" fill="#1a1a1a"/>
<ellipse cx="977.4" cy="2047.6" rx="9.6" ry="9.89" fill="#1a1a1a"/>
<ellipse cx="951.3" cy="2049.0" rx="9.6" ry="9.89" fill="#1a1a1a"/>
<ellipse cx="1018.1" cy="2054.9" rx="9.6" ry="9.89" fill="#1a1a1a"/>
<ellipse cx="1030.7" cy="2058.4" rx="9.6" ry="9.89" fill="#1a1a1a"/>
<ellipse cx="1075.7" cy="2036.1" rx="9.6" ry="9.89" fill="#1a1a1a"/>
<ellipse cx="1107.5" cy="2027.5" rx="9.6" ry="9.89" fill="#1a1a1a"/>
<ellipse cx="1173.4" cy="2043.1" rx="9.6" ry="9.89" fill="#1a1a1a"/>
<ellipse cx="1219.2" cy="2071.3" rx="9.6" ry="9.89" fill="#1a1a1a"/>
<ellipse cx="919.0" cy="2079.4" rx="9.6" ry="9.89" fill="#1a1a1a"/>
<ellipse cx="1006.5" cy="2085.3" rx="9.6" ry="9.89" fill="#1a1a1a"/>
<ellipse cx="1035.6" cy="2085.9" rx="9.6" ry="9.89" fill="#1a1a1a"/>
<ellipse cx="970.2" cy="2096.1" rx="9.6" ry="9.89" fill="#1a1a1a"/>
<ellipse cx="991.7" cy="2094.8" rx="9.6" ry="9.89" fill="#1a1a1a"/>
<ellipse cx="1396.4" cy="1984.6" rx="9.6" ry="9.89" fill="#1a1a1a"/>
<ellipse cx="1383.4" cy="1999.2" rx="9.6" ry="9.89" fill="#1a1a1a"/>
<ellipse cx="1343.6" cy="1747.6" rx="9.6" ry="9.89" fill="#1a1a1a"/>
<ellipse cx="971.7" cy="2136.7" rx="9.6" ry="9.89" fill="#1a1a1a"/>
<ellipse cx="1050.0" cy="2117.9" rx="9.6" ry="9.89" fill="#1a1a1a"/>
<ellipse cx="1050.0" cy="2136.2" rx="9.6" ry="9.89" fill="#1a1a1a"/>
<line x1="917.5" y1="2045.0" x2="1396.9" y2="1948.0" stroke="#1a1a1a" stroke-width="4.8" stroke-linecap="butt"/>
<path d="M906.5,1628.4 L914.0,1628.4 L914.0,2192.7 L1476.8,2192.7" fill="none" stroke="#1a1a1a" stroke-width="8" stroke-linecap="round" stroke-linejoin="round"/>
<text transform="translate(901.3 1640.2) scale(1 1.045)" font-size="33.8" font-weight="bold" font-family="'Liberation Serif','Times New Roman',serif" text-anchor="end" >10</text>
<line x1="906.3" y1="1741.3" x2="914.0" y2="1741.3" stroke="#1a1a1a" stroke-width="7.4" stroke-linecap="round"/>
<text transform="translate(901.3 1753.1) scale(1 1.045)" font-size="33.8" font-weight="bold" font-family="'Liberation Serif','Times New Roman',serif" text-anchor="end" >8</text>
<line x1="906.3" y1="1854.1" x2="914.0" y2="1854.1" stroke="#1a1a1a" stroke-width="7.4" stroke-linecap="round"/>
<text transform="translate(901.3 1865.9) scale(1 1.045)" font-size="33.8" font-weight="bold" font-family="'Liberation Serif','Times New Roman',serif" text-anchor="end" >6</text>
<line x1="906.3" y1="1967.0" x2="914.0" y2="1967.0" stroke="#1a1a1a" stroke-width="7.4" stroke-linecap="round"/>
<text transform="translate(901.3 1978.8) scale(1 1.045)" font-size="33.8" font-weight="bold" font-family="'Liberation Serif','Times New Roman',serif" text-anchor="end" >4</text>
<line x1="906.3" y1="2079.8" x2="914.0" y2="2079.8" stroke="#1a1a1a" stroke-width="7.4" stroke-linecap="round"/>
<text transform="translate(901.3 2091.6) scale(1 1.045)" font-size="33.8" font-weight="bold" font-family="'Liberation Serif','Times New Roman',serif" text-anchor="end" >2</text>
<line x1="906.3" y1="2192.7" x2="914.0" y2="2192.7" stroke="#1a1a1a" stroke-width="7.4" stroke-linecap="round"/>
<text transform="translate(901.3 2204.5) scale(1 1.045)" font-size="33.8" font-weight="bold" font-family="'Liberation Serif','Times New Roman',serif" text-anchor="end" >0</text>
<line x1="914.6" y1="2192.7" x2="914.6" y2="2201.7" stroke="#1a1a1a" stroke-width="7.2" stroke-linecap="round"/>
<text transform="translate(914.6 2236.5) scale(1 1.045)" font-size="33.8" font-weight="bold" font-family="'Liberation Serif','Times New Roman',serif" text-anchor="middle" >0</text>
<line x1="1055.2" y1="2192.7" x2="1055.2" y2="2201.7" stroke="#1a1a1a" stroke-width="7.2" stroke-linecap="round"/>
<text transform="translate(1055.2 2236.5) scale(1 1.045)" font-size="33.8" font-weight="bold" font-family="'Liberation Serif','Times New Roman',serif" text-anchor="middle" >1</text>
<line x1="1195.7" y1="2192.7" x2="1195.7" y2="2201.7" stroke="#1a1a1a" stroke-width="7.2" stroke-linecap="round"/>
<text transform="translate(1195.7 2236.5) scale(1 1.045)" font-size="33.8" font-weight="bold" font-family="'Liberation Serif','Times New Roman',serif" text-anchor="middle" >2</text>
<line x1="1336.3" y1="2192.7" x2="1336.3" y2="2201.7" stroke="#1a1a1a" stroke-width="7.2" stroke-linecap="round"/>
<text transform="translate(1336.3 2236.5) scale(1 1.045)" font-size="33.8" font-weight="bold" font-family="'Liberation Serif','Times New Roman',serif" text-anchor="middle" >3</text>
<line x1="1476.8" y1="2192.7" x2="1476.8" y2="2201.7" stroke="#1a1a1a" stroke-width="7.2" stroke-linecap="round"/>
<text transform="translate(1476.8 2236.5) scale(1 1.045)" font-size="33.8" font-weight="bold" font-family="'Liberation Serif','Times New Roman',serif" text-anchor="middle" >4</text>
<text transform="translate(956.2 1641.3)" font-size="35" font-weight="bold" font-family="'Liberation Serif','Times New Roman',serif" text-anchor="start" textLength="396.0" lengthAdjust="spacing" >n = 36, r = 0.322, p = 0.028</text>
<text transform="translate(1358.2 1623.6)" font-size="24" font-weight="normal" font-family="'Liberation Serif','Times New Roman',serif" text-anchor="start" >*</text>
<text transform="translate(848.9 1907.2) rotate(-90)" font-size="44" font-weight="bold" font-family="'Liberation Serif','Times New Roman',serif" text-anchor="middle" textLength="422.0" lengthAdjust="spacing" >AhR / GADPH mRNA</text>
<text transform="translate(958.6 2288.0)" font-size="43.5" font-weight="bold" font-family="'Liberation Serif','Times New Roman',serif" text-anchor="start" textLength="467.1" lengthAdjust="spacing" >IL-17A / GADPH mRNA</text>
<text transform="translate(822.8 2241.8)" font-size="61" font-weight="bold" font-family="'Liberation Sans',Arial,sans-serif" text-anchor="start" letter-spacing="0">f.</text>
</svg></body></html>
